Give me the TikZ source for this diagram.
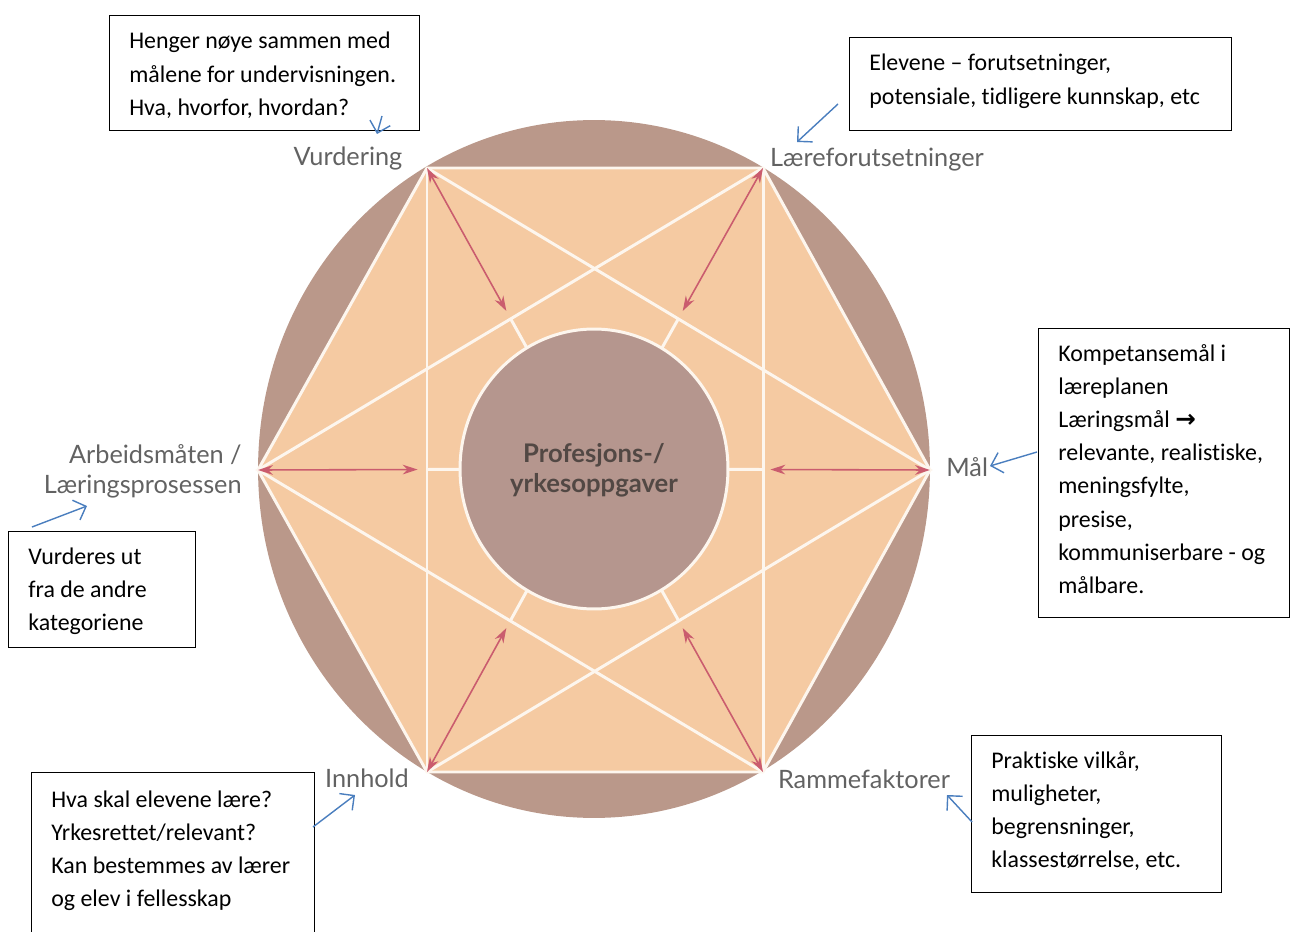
\documentclass[tikz,border=0pt]{standalone}
\usepackage{fontspec}
\setmainfont{Carlito}[Ligatures={NoCommon,NoContextual}]
\newfontfamily\labelfont{Lato}
\newfontfamily\symfont{DejaVu Sans}
\usetikzlibrary{arrows.meta,calc,shapes.geometric}
\definecolor{outerbrown}{RGB}{186,152,138}
\definecolor{innerbrown}{RGB}{181,150,142}
\definecolor{peach}{RGB}{245,202,162}
\definecolor{whiteline}{RGB}{253,246,238}
\definecolor{redarrow}{RGB}{202,92,110}
\definecolor{bluearrow}{RGB}{74,126,190}
\definecolor{labelgray}{RGB}{98,98,98}
\definecolor{centergray}{RGB}{82,72,68}
\begin{document}
\begin{tikzpicture}[x=0.02cm,y=-0.02cm,
  wl/.style={draw=whiteline,line width=1.7pt},
  redarr/.style={draw=redarrow,line width=0.9pt,<->,>={Stealth[length=8.5pt,width=5.5pt]}},
  bluearr/.style={draw=bluearrow,line width=0.8pt,-{Straight Barb[length=6pt,width=12pt]}},
  frame/.style={draw=black,line width=0.7pt,anchor=north west,inner sep=0pt},
  boxtext/.style={anchor=base west,inner sep=0pt,font=\fontsize{13.6}{18.9}\selectfont},
  lbl/.style={inner sep=0pt,text=labelgray,font=\labelfont\fontsize{14.4}{17.6}\selectfont},
  ctr/.style={inner sep=0pt,text=centergray,font=\labelfont\bfseries\fontsize{14.6}{17.5}\selectfont}]
\useasboundingbox (0,0) rectangle (1291,932);
% vertices
\coordinate (C) at (594,469);
\coordinate (V) at (427,168);
\coordinate (L) at (763,168);
\coordinate (M) at (930,470);
\coordinate (R) at (763,772);
\coordinate (I) at (427,772);
\coordinate (A) at (258,470);
% outer circle
\fill[outerbrown] (C) ellipse [x radius=6.72cm, y radius=6.98cm];
\fill[peach] (V) -- (L) -- (M) -- (R) -- (I) -- (A) -- cycle;
% white lines
\draw[wl] (V) -- (L) -- (M) -- (R) -- (I) -- (A) -- cycle;
\draw[wl] (V) -- (M) -- (I);
\draw[wl] (L) -- (A) -- (R);
\draw[wl] (V) -- (I);
\draw[wl] (L) -- (R);
\foreach \p in {V,L,M,R,I,A}{
  \draw[wl] ($(\p)!0.5!(C)$) -- (C);
}
% inner circle
\node[ellipse,draw=whiteline,line width=1.7pt,fill=innerbrown,inner sep=0pt,minimum width=5.36cm,minimum height=5.6cm] (core) at (C) {};
% red arrows
\foreach \p in {V,L,M,R,I,A}{
  \draw[redarr] (\p) -- ($(\p)!0.475!(C)$);
}
% labels
\node[lbl,anchor=base] (vur) at (348,166) {Vurdering};
\node[lbl,anchor=base] (laf) at (877,167) {Læreforutsetninger};
\node[lbl,anchor=base east] (arb) at (242,463) {\begin{tabular}[t]{@{}r@{}}Arbeidsmåten /\\Læringsprosessen\end{tabular}};
\node[lbl,anchor=base west] (mal) at (946,476) {Mål};
\node[lbl,anchor=base] (inn) at (367,787) {Innhold};
\node[lbl,anchor=base] (ram) at (864,788) {Rammefaktorer};
\node[ctr,anchor=base] (prof) at (594,462) {\begin{tabular}[t]{@{}c@{}}Profesjons-/\\yrkesoppgaver\end{tabular}};
% boxes
\node[frame,minimum width=6.2cm,minimum height=2.3cm] (b1) at (109,15) {};
\node[boxtext] (t1) at (129,49) {\begin{tabular}[t]{@{}l@{}}Henger nøye sammen med\\målene for undervisningen.\\Hva, hvorfor, hvordan?\end{tabular}};
\node[frame,minimum width=7.64cm,minimum height=1.86cm] (b2) at (849,37) {};
\node[boxtext] (t2) at (869,71) {\begin{tabular}[t]{@{}l@{}}Elevene – forutsetninger,\\potensiale, tidligere kunnskap, etc\end{tabular}};
\node[frame,minimum width=5.02cm,minimum height=5.78cm] (b3) at (1038,328) {};
\node[boxtext] (t3) at (1058,361) {\begin{tabular}[t]{@{}l@{}}Kompetansemål i\\læreplanen\\Læringsmål {\symfont\bfseries\fontsize{14}{14}\selectfont →}\\relevante, realistiske,\\meningsfylte,\\presise,\\kommuniserbare - og\\målbare.\end{tabular}};
\node[frame,minimum width=3.74cm,minimum height=2.32cm] (b4) at (8,531) {};
\node[boxtext] (t4) at (28,564) {\begin{tabular}[t]{@{}l@{}}Vurderes ut\\fra de andre\\kategoriene\end{tabular}};
\node[frame,minimum width=5.66cm,minimum height=4.0cm] (b5) at (31,772) {};
\node[boxtext] (t5) at (51,807) {\begin{tabular}[t]{@{}l@{}}Hva skal elevene lære?\\Yrkesrettet/relevant?\\Kan bestemmes av lærer\\og elev i fellesskap\end{tabular}};
\node[frame,minimum width=5.0cm,minimum height=3.14cm] (b6) at (971,735) {};
\node[boxtext] (t6) at (991,768) {\begin{tabular}[t]{@{}l@{}}Praktiske vilkår,\\muligheter,\\begrensninger,\\klassestørrelse, etc.\end{tabular}};
% blue arrows
\coordinate (a1s) at (382,116); \coordinate (a1e) at (377,134);
\coordinate (a2s) at (838,104); \coordinate (a2e) at (797,142);
\coordinate (a3s) at (1037,452); \coordinate (a3e) at (990,466);
\coordinate (a4s) at (32,527); \coordinate (a4e) at (87,506);
\coordinate (a5s) at (313,827); \coordinate (a5e) at (355,795);
\coordinate (a6s) at (972,822); \coordinate (a6e) at (947,795);
\draw[bluearr] (a1s) -- (a1e);
\draw[bluearr] (a2s) -- (a2e);
\draw[bluearr] (a3s) -- (a3e);
\draw[bluearr] (a4s) -- (a4e);
\draw[bluearr] (a5s) -- (a5e);
\draw[bluearr] (a6s) -- (a6e);
\end{tikzpicture}
\end{document}
